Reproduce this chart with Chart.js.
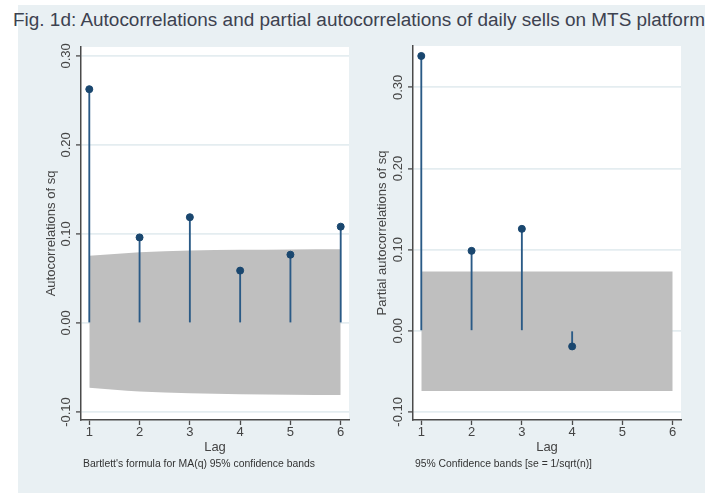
<!DOCTYPE html>
<html><head><meta charset="utf-8">
<script src="https://cdn.jsdelivr.net/npm/chart.js@4"></script>
<style>
body{margin:0;background:#fff;width:713px;height:494px;overflow:hidden;position:relative;font-family:"Liberation Sans",Arial,sans-serif}
#bg{position:absolute;left:18px;top:5px;width:687px;height:488px;background:#e9f0f3}
#title{position:absolute;left:13px;top:11px;font-size:18px;line-height:18px;color:#3d4250;white-space:nowrap;transform-origin:0 0}
canvas{position:absolute;top:0}
.note{position:absolute;font-size:10px;line-height:11px;color:#333;white-space:nowrap;transform-origin:0 0}
</style></head><body>
<div id="bg"></div>
<div id="title">Fig. 1d: Autocorrelations and partial autocorrelations of daily sells on MTS platform</div>
<canvas id="c1" width="360" height="494" style="left:0px"></canvas>
<canvas id="c2" width="358" height="494" style="left:355px"></canvas>
<div class="note" id="n1" style="left:83px;top:458px">Bartlett's formula for MA(q) 95% confidence bands</div>
<div class="note" id="n2" style="left:415px;top:458px">95% Confidence bands [se = 1/sqrt(n)]</div>
<script>
// ---- data ----
const lags = [1, 2, 3, 4, 5, 6];
const acValues = [0.2626, 0.0961, 0.1188, 0.0588, 0.0767, 0.1082];
const acBandUpper = [0.0756, 0.0795, 0.0815, 0.0822, 0.0826, 0.0828];
const acBandLower = [-0.0727, -0.0770, -0.0790, -0.0800, -0.0805, -0.0810];
const pacLags = [1, 2, 3, 4];
const pacValues = [0.3387, 0.0985, 0.1256, -0.0193];
const pacBandUpper = [0.0730, 0.0730, 0.0730, 0.0730, 0.0730, 0.0730];
const pacBandLower = [-0.0743, -0.0743, -0.0743, -0.0743, -0.0743, -0.0743];
const yTicks = [-0.1, 0, 0.1, 0.2, 0.3];
const xTicks = [1, 2, 3, 4, 5, 6];

// fit text widths
function fitWidth(id, target) {
  const el = document.getElementById(id);
  const w = el.getBoundingClientRect().width;
  el.style.transform = 'scaleX(' + (target / w) + ')';
}
fitWidth('title', 692);
fitWidth('n1', 232);
fitWidth('n2', 177);

const NAVY = '#1a476f';
const STEM = '#2a5a86';
const AXIS = '#4a4a4a';
const GRID = '#e4edf0';
const BAND = '#bfbfbf';

const whiteArea = {
  id: 'whiteArea',
  beforeDraw(chart) {
    const a = chart.chartArea, ctx = chart.ctx;
    ctx.save(); ctx.fillStyle = '#ffffff';
    ctx.fillRect(a.left, a.top, a.right - a.left, a.bottom - a.top);
    ctx.restore();
  }
};

function makePanel(id, o) {
  const pts = (xs, ys) => xs.map((x, i) => ({x: x, y: ys[i]}));
  new Chart(document.getElementById(id), {
    type: 'scatter',
    data: {
      datasets: [
        {type: 'line', data: pts(lags, o.upper), borderWidth: 0, pointRadius: 0, fill: false, order: 3, cubicInterpolationMode: 'monotone'},
        {type: 'line', data: pts(lags, o.lower), borderWidth: 0, pointRadius: 0, fill: '-1', backgroundColor: BAND, order: 3, cubicInterpolationMode: 'monotone'},
        {type: 'bar', data: pts(o.xs, o.values), barThickness: 1.2, backgroundColor: STEM, borderWidth: 0, order: 2},
        {type: 'scatter', data: pts(o.xs, o.values), pointRadius: 3.5, pointBackgroundColor: NAVY, pointBorderColor: NAVY, pointBorderWidth: 1, order: 1}
      ]
    },
    options: {
      responsive: false,
      animation: false,
      layout: {padding: o.padding},
      plugins: {legend: {display: false}, tooltip: {enabled: false}},
      scales: {
        x: {
          type: 'linear', offset: false, min: 0.835, max: 6.165,
          afterBuildTicks: s => { s.ticks = xTicks.map(v => ({value: v})); },
          afterFit: s => { s.height = 38; },
          grid: {offset: false, drawOnChartArea: false, tickLength: 5, tickColor: AXIS, tickWidth: 1.3},
          border: {color: AXIS, width: 1.5},
          ticks: {padding: 0, color: '#444', font: {size: 13, family: 'Liberation Sans'}, callback: v => String(v)},
          title: {display: true, text: 'Lag', color: '#444', font: {size: 13, family: 'Liberation Sans'}, padding: {top: 0, bottom: 2.5}}
        },
        y: {
          min: o.ymin, max: o.ymax,
          afterBuildTicks: s => { s.ticks = yTicks.map(v => ({value: v})); },
          afterFit: s => { s.width = o.yWidth; },
          grid: {offset: false, color: GRID, lineWidth: 1.8, tickLength: 5, tickColor: AXIS, tickWidth: 1.3},
          border: {color: AXIS, width: 1.5},
          ticks: {padding: o.tickPad, crossAlign: 'center', minRotation: 90, maxRotation: 90, color: '#444', font: {size: 13, family: 'Liberation Sans'}, callback: v => Number(v).toFixed(2)},
          title: {display: true, text: o.ytitle, color: '#444', font: {size: 13, family: 'Liberation Sans'}, padding: {top: o.titlePad, bottom: 0}}
        }
      }
    },
    plugins: [whiteArea]
  });
}

makePanel('c1', {
  xs: lags, values: acValues, upper: acBandUpper, lower: acBandLower,
  ymin: -0.109, ymax: 0.310, yWidth: 81, tickPad: -4.8, titlePad: 44,
  padding: {left: 0, right: 11, top: 47, bottom: 36},
  ytitle: 'Autocorrelations of sq'
});
makePanel('c2', {
  xs: pacLags, values: pacValues, upper: pacBandUpper, lower: pacBandLower,
  ymin: -0.110, ymax: 0.351, yWidth: 58, tickPad: -5.3, titlePad: 20,
  padding: {left: 0, right: 32, top: 46, bottom: 36},
  ytitle: 'Partial autocorrelations of sq'
});
</script>
</body></html>
